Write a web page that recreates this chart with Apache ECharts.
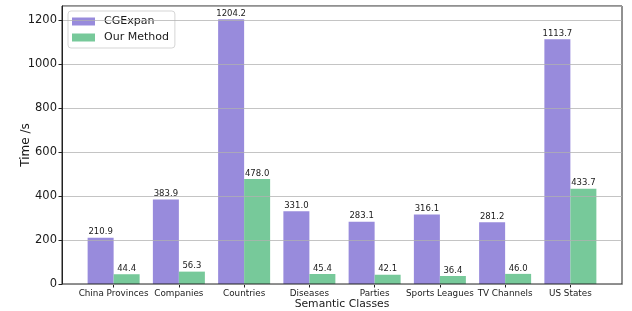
<!DOCTYPE html>
<html>
<head>
<meta charset="utf-8">
<script src="https://cdn.jsdelivr.net/npm/echarts@6/dist/echarts.min.js"></script>
<style>
  html, body { margin: 0; padding: 0; background: #fff; }
  #chart { width: 632px; height: 311px; }
</style>
</head>
<body>
<div id="chart"></div>
<script>
// 数据
const categories = ['China Provinces', 'Companies', 'Countries', 'Diseases', 'Parties', 'Sports Leagues', 'TV Channels', 'US States'];
const cgexpan = [210.9, 383.9, 1204.2, 331.0, 283.1, 316.1, 281.2, 1113.7];
const ourMethod = [44.4, 56.3, 478.0, 45.4, 42.1, 36.4, 46.0, 433.7];
const yTicks = [0, 200, 400, 600, 800, 1000, 1200];

const FONT = 'DejaVu Sans';
const yMax = 1264.4; // matplotlib 默认上边距

const chart = echarts.init(document.getElementById('chart'), null, { renderer: 'canvas' });

const barLabel = {
  show: true,
  position: 'top',
  distance: 1,
  fontFamily: FONT,
  fontSize: 8.5,
  color: '#1a1a1a',
  formatter: p => p.value.toFixed(1)
};

chart.setOption({
  animation: false,
  textStyle: { fontFamily: FONT },
  legend: {
    orient: 'vertical',
    left: 68,
    top: 11,
    padding: [4, 6, 4, 4],
    itemGap: 3,
    itemWidth: 23,
    itemHeight: 8,
    icon: 'rect',
    backgroundColor: 'rgba(255,255,255,0.85)',
    borderColor: '#d5d5d5',
    borderWidth: 1,
    borderRadius: 3,
    textStyle: { fontFamily: FONT, fontSize: 11, color: '#1a1a1a', lineHeight: 13, padding: [0, 0, 0, 4] },
    data: ['CGExpan', 'Our Method']
  },
  grid: [
    // 外框 + 网格线
    { left: 62, right: 10, top: 6, bottom: 27, show: true, borderColor: '#222', borderWidth: 1, z: 4, containLabel: false, outerBoundsMode: 'none' },
    // 柱子区域
    { left: 81, right: 29, top: 6, bottom: 27, containLabel: false, outerBoundsMode: 'none' }
  ],
  xAxis: [
    {
      gridIndex: 0, type: 'value', min: 0, max: 1,
      axisLine: { show: true, lineStyle: { color: '#222' } },
      axisTick: { show: false }, axisLabel: { show: false }, splitLine: { show: false },
      name: 'Semantic Classes', nameLocation: 'middle', nameGap: 15, nameMoveOverlap: false,
      nameTextStyle: { fontFamily: FONT, fontSize: 10.8, color: '#1a1a1a' }
    },
    {
      gridIndex: 1, type: 'category', data: categories,
      axisLine: { show: false },
      axisTick: { show: true, alignWithLabel: true, length: 3.5, lineStyle: { color: '#222' } },
      axisLabel: { fontFamily: FONT, fontSize: 8.8, color: '#1a1a1a', margin: 5, interval: 0 }
    }
  ],
  yAxis: [
    {
      gridIndex: 0, type: 'value', min: 0, max: yMax, interval: 200, z: 5,
      axisLine: { show: true, lineStyle: { color: '#222' } },
      axisTick: { show: true, length: 3.5, lineStyle: { color: '#222' } },
      axisLabel: {
        fontFamily: FONT, fontSize: 11.5, color: '#1a1a1a', margin: 5, showMaxLabel: false,
        formatter: v => (yTicks.includes(v) ? String(v) : '')
      },
      splitLine: { show: true, lineStyle: { color: 'rgba(176,176,176,0.75)', width: 1 } },
      name: 'Time /s', nameLocation: 'middle', nameGap: 30, nameRotate: 90, nameMoveOverlap: false,
      nameTextStyle: { fontFamily: FONT, fontSize: 12, color: '#1a1a1a' }
    },
    {
      gridIndex: 1, type: 'value', min: 0, max: yMax, show: false
    }
  ],
  series: [
    {
      name: 'CGExpan', type: 'bar', xAxisIndex: 1, yAxisIndex: 1,
      data: cgexpan, barWidth: 26, barGap: '0%',
      itemStyle: { color: '#988bdc' },
      label: barLabel
    },
    {
      name: 'Our Method', type: 'bar', xAxisIndex: 1, yAxisIndex: 1,
      data: ourMethod, barWidth: 26, barGap: '0%',
      itemStyle: { color: '#77c99a' },
      label: barLabel
    }
  ]
});
</script>
</body>
</html>
